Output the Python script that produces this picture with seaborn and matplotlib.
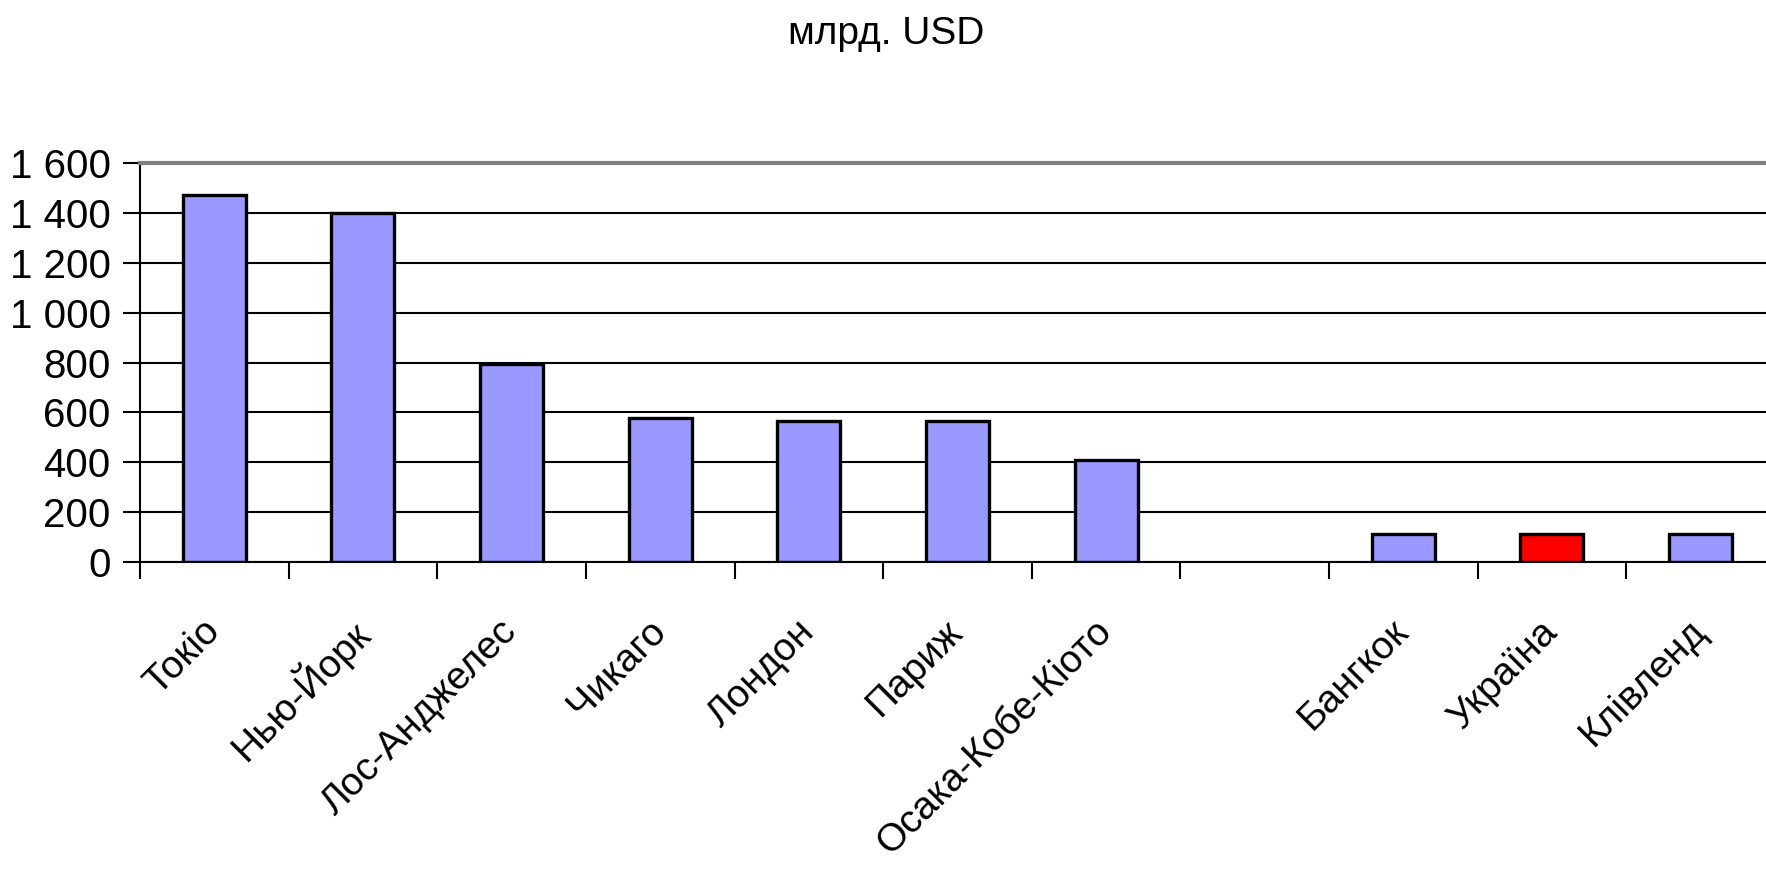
import matplotlib
matplotlib.use("Agg")
import matplotlib.pyplot as plt
import numpy as np
import pandas as pd
import seaborn as sns
from matplotlib.ticker import FuncFormatter, FixedLocator

sns.set_theme(style="white")
plt.rcParams['font.family'] = ['Liberation Sans', 'DejaVu Sans']
plt.rcParams.update({'text.color': 'black', 'xtick.color': 'black',
                     'ytick.color': 'black', 'axes.labelcolor': 'black'})

# data (млрд. USD); blank slot between Осака and Бангкок
cities = ['Токіо', 'Нью-Йорк', 'Лос-Анджелес', 'Чикаго', 'Лондон', 'Париж',
          'Осака-Кобе-Кіото', ' ', 'Бангкок', 'Україна', 'Клівленд']
values = [1473, 1400, 795, 577, 564, 564, 409, np.nan, 114, 114, 114]
bar_colors = ['#9999FF'] * 9 + ['#FF0000', '#9999FF']

df = pd.DataFrame({'city': cities, 'value': values})

W, H = 1766, 888
fig = plt.figure(figsize=(W / 100, H / 100), dpi=100)
ax = fig.add_axes([140 / W, 1 - 562 / H, 1 - 140 / W, (562 - 163) / H])

sns.barplot(data=df, x='city', y='value', order=cities, hue='city',
            palette=dict(zip(cities, bar_colors)), legend=False, saturation=1,
            width=0.424, edgecolor='black', linewidth=2.4, ax=ax)

ax.set_ylim(0, 1600)
ax.set_xlim(-0.5, 10.44)
ax.set_yticks(range(0, 1601, 200))
ax.yaxis.set_major_formatter(FuncFormatter(lambda v, p: f'{int(v):,}'.replace(',', ' ')))
ax.grid(axis='y', color='black', linewidth=1.5)
ax.set_axisbelow(True)

# category boundary ticks on the x axis
ax.xaxis.set_minor_locator(FixedLocator(np.arange(-0.5, 10.5, 1)))
ax.tick_params(axis='x', which='major', bottom=True, length=0, pad=46, labelsize=28)
ax.tick_params(axis='x', which='minor', bottom=True, length=12, width=1.5, color='black', direction='out')
ax.tick_params(axis='y', left=True, length=12, width=1.5, color='black', labelsize=29, pad=9, direction='out')
plt.setp(ax.get_xticklabels(), rotation=45, ha='right', va='center', rotation_mode='anchor')

ax.set_xlabel('')
ax.set_ylabel('')
for s in ['left', 'bottom']:
    ax.spines[s].set_color('black')
    ax.spines[s].set_linewidth(1.5)
ax.spines['top'].set_color('#808080')
ax.spines['top'].set_linewidth(3)
ax.spines['right'].set_visible(False)

fig.text(0.502, 1 - 34 / H, 'млрд. USD', ha='center', va='center', fontsize=28)

fig.savefig('out.png', dpi=100)
